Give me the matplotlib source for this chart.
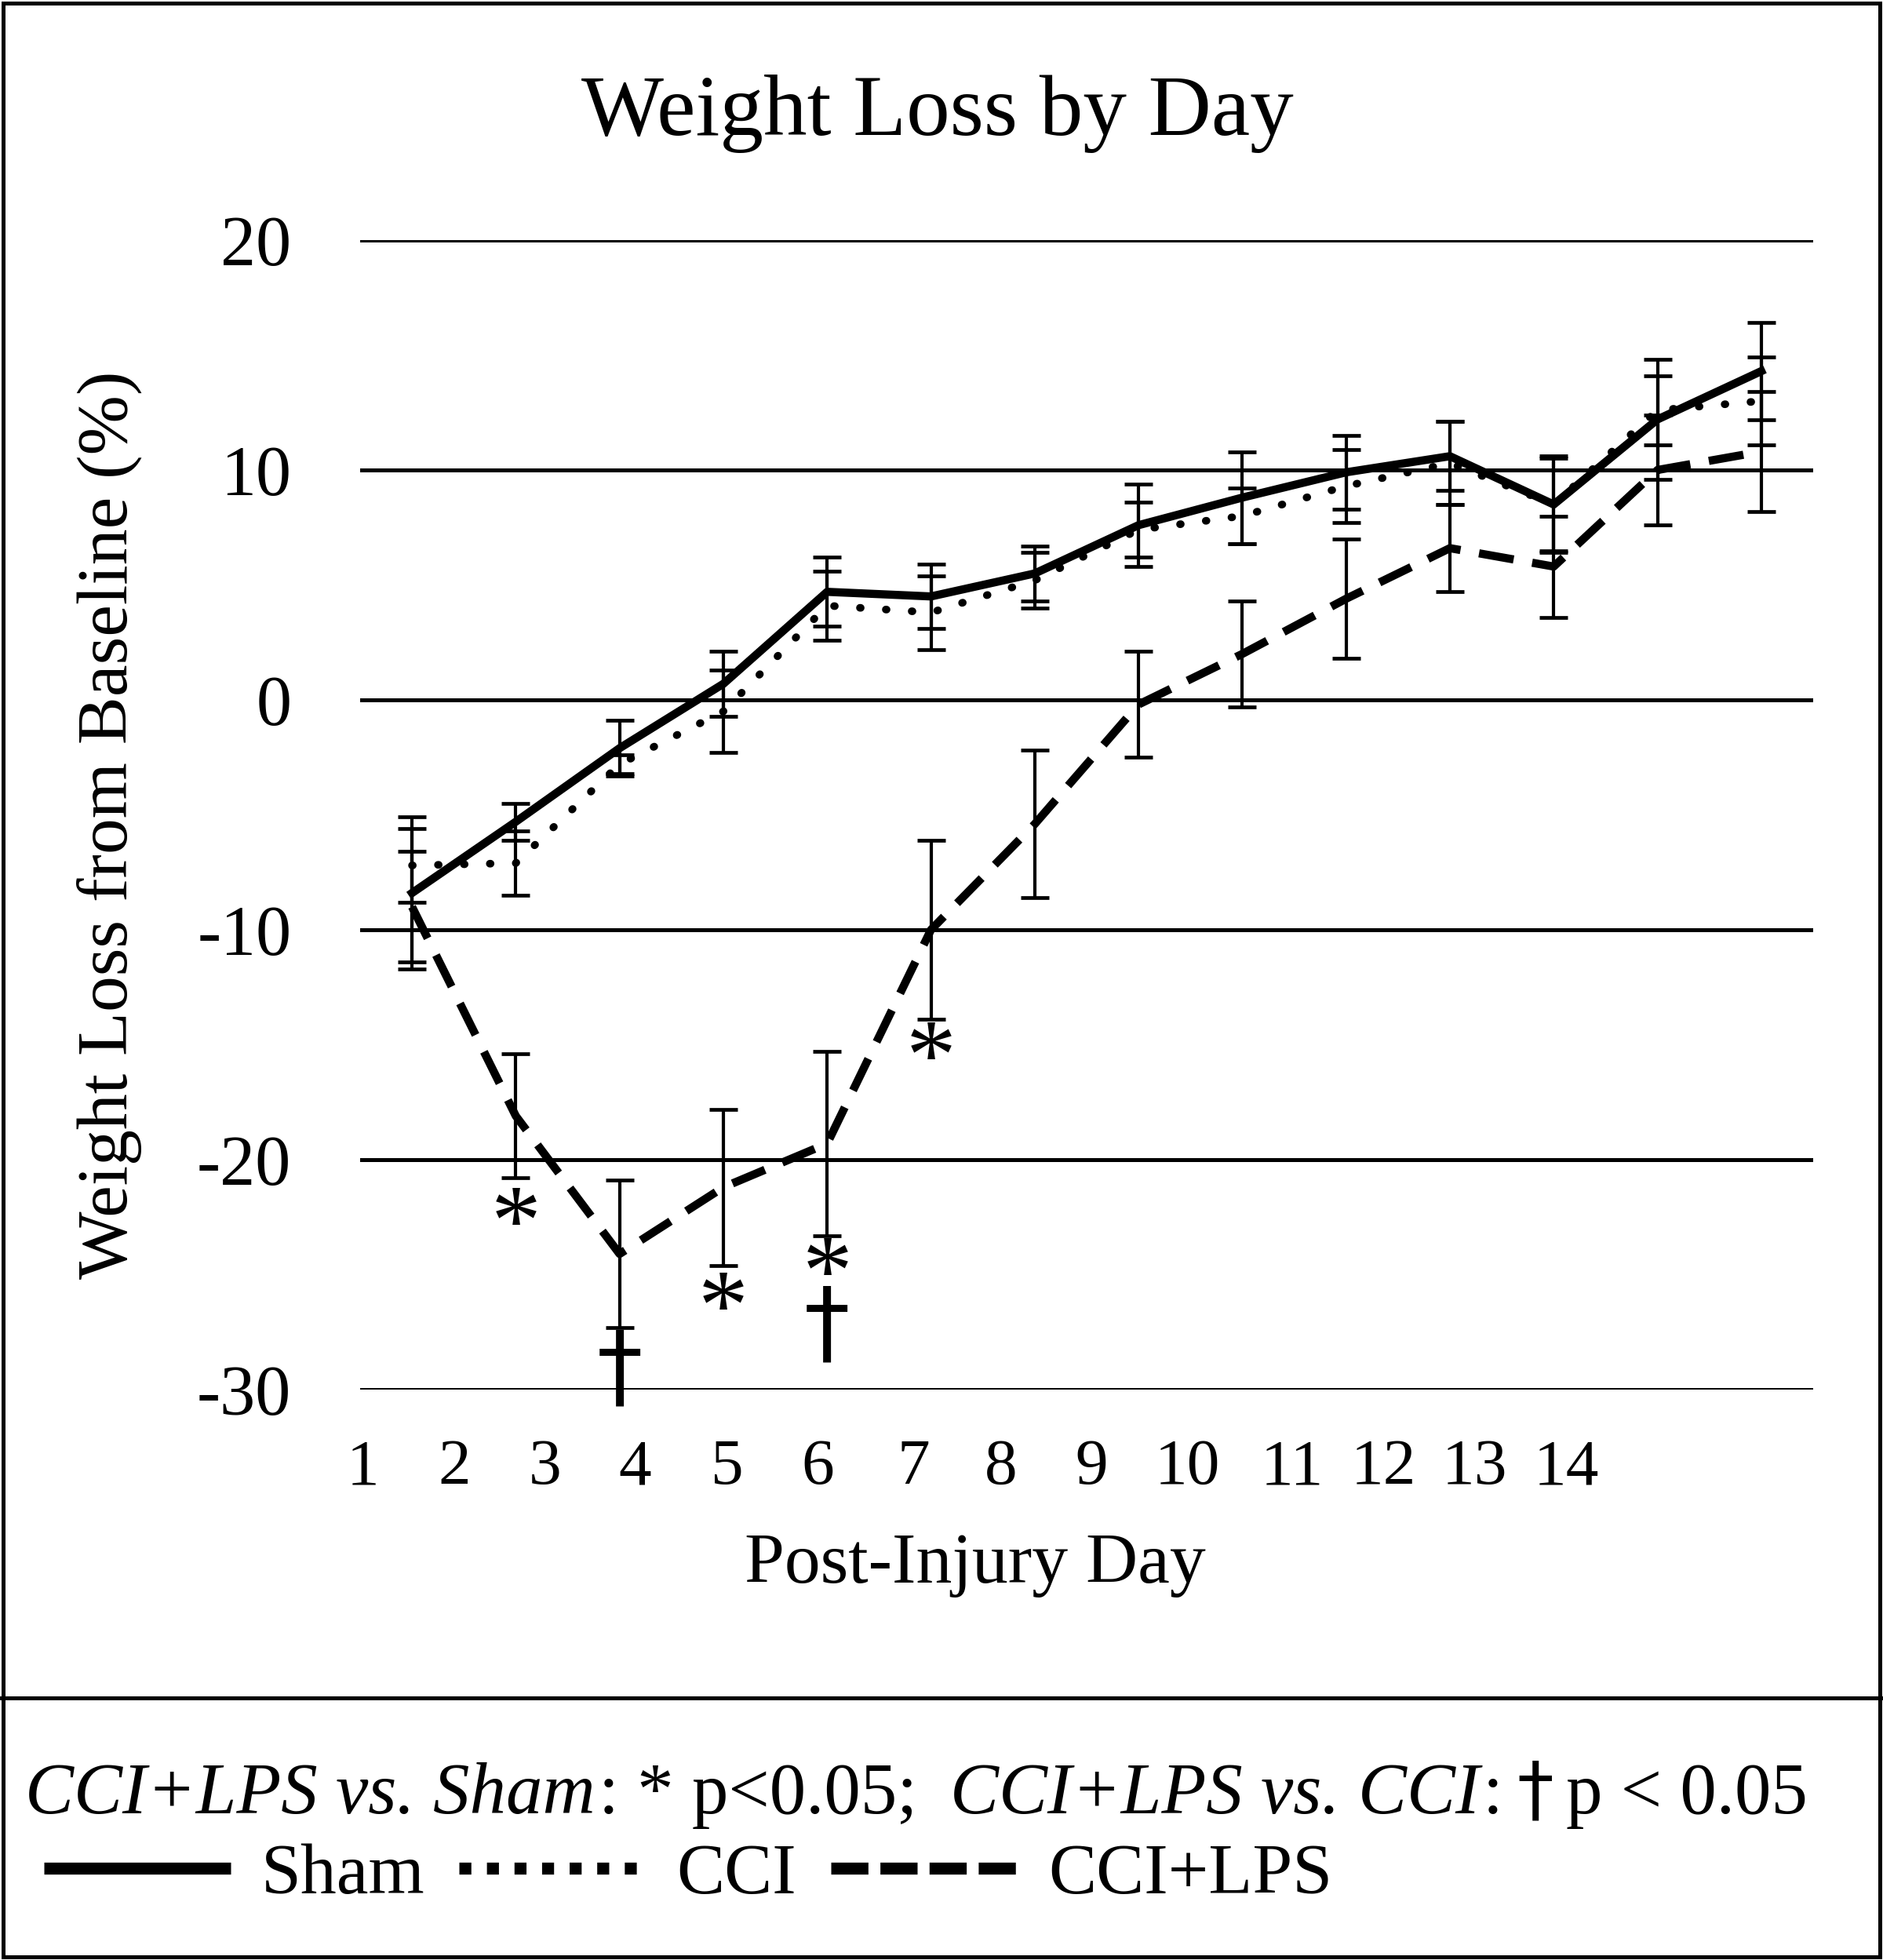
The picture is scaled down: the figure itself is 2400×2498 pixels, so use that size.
import numpy as np
import matplotlib
matplotlib.use('Agg')
import matplotlib.pyplot as plt
from matplotlib.lines import Line2D
from matplotlib.patches import Rectangle

plt.rcParams['font.family'] = 'Liberation Serif'

# ---- data ----
days     = np.arange(1, 15)
groups   = ['Sham', 'CCI', 'CCI+LPS']
sham     = [-8.4, -5.3, -2.1, 0.7, 4.7, 4.5, 5.5, 7.6, 8.8, 9.9, 10.6, 8.5, 12.2, 14.3]
sham_err = [3.3, 0.8, 1.2, 1.4, 1.5, 1.4, 1.2, 1.8, 2.0, 1.6, 1.5, 2.1, 2.6, 2.1]
cci      = [-7.2, -7.1, -2.8, -0.5, 4.1, 3.8, 5.2, 7.4, 8.0, 9.3, 10.3, 8.5, 12.6, 13.0]
cci_err  = [1.6, 1.4, 0.4, 1.8, 1.5, 1.6, 1.2, 1.2, 1.2, 1.6, 1.8, 2.0, 1.5, 1.9]
lps      = [-9.0, -18.1, -24.1, -21.2, -19.3, -10.0, -5.4, -0.2, 2.0, 4.4, 6.6, 5.8, 10.0, 10.8]
lps_err  = [2.4, 2.7, 3.2, 3.4, 4.0, 3.9, 3.2, 2.3, 2.3, 2.6, 1.9, 2.2, 2.4, 2.6]

star_days   = [2, 4, 5, 6]
star_y      = [-22.0, -25.7, -24.2, -14.8]
dagger_days = [3, 5]
dagger_y    = [-29.2, -27.3]

yticks = [20, 10, 0, -10, -20, -30]

# ---- figure ----
W, H = 2400, 2498
fig = plt.figure(figsize=(W/100, H/100), dpi=100)
ax = fig.add_axes([459/W, 1 - 1771/H, (2311-459)/W, (1771-306)/H])

x = days - 0.5
ax.set_xlim(0, 14)
ax.set_ylim(-30, 20)

ax.set_yticks(yticks, labels=[str(v) for v in yticks])
ax.grid(axis='y', color='black', lw=3.6)
ax.set_axisbelow(True)
for s in ax.spines.values():
    s.set_visible(False)
ax.tick_params(axis='y', length=0, pad=63, labelsize=65)

# excel-style category labels that don't sit under the points
xtick_pos = [0.03, 0.91, 1.78, 2.65, 3.54, 4.41, 5.33, 6.17, 7.05, 7.97, 8.98, 9.86, 10.74, 11.62]
ax.set_xticks(xtick_pos, labels=[str(d) for d in days])
ax.tick_params(axis='x', length=0, pad=45, labelsize=60)

ebkw = dict(fmt='none', ecolor='black', elinewidth=3, capsize=13, capthick=3.4, zorder=3)
ax.errorbar(x, sham, yerr=sham_err, **ebkw)
ax.errorbar(x, cci, yerr=cci_err, **ebkw)
ax.errorbar(x, lps, yerr=lps_err, **ebkw)

ax.plot(x, sham, color='black', lw=7.5, zorder=4)
ax.plot(x, cci, color='black', lw=7, linestyle=(0, (0.1, 3.3)),
        dash_capstyle='round', zorder=4)
ax.plot(x, lps, color='black', lw=7.5, linestyle=(0, (4.3, 2.3)), zorder=4)

for d, yv in zip(star_days, star_y):
    ax.annotate('*', (d - 0.5, yv), xytext=(0, -0.48*92), textcoords='offset points',
                ha='center', va='baseline', fontsize=92)
for d, yv in zip(dagger_days, dagger_y):
    ax.annotate('\u2020', (d - 0.5, yv), ha='center', va='center', fontsize=84,
                family='DejaVu Sans')

# titles
fig.text(0.498, 1 - 172/H, 'Weight Loss by Day', ha='center', va='baseline', fontsize=80)
fig.text(0.518, 1 - 2017/H, 'Post-Injury Day', ha='center', va='baseline', fontsize=66)
fig.text(0.058, 0.579, 'Weight Loss from Baseline (%)', rotation=90,
         ha='center', va='center', fontsize=66)

# footnote with italic parts
fig.canvas.draw()
r = fig.canvas.get_renderer()
pieces = [('CCI+LPS vs. Sham', 'italic', 'Liberation Serif', 4),
          (': * p<0.05;', 'normal', 'Liberation Serif', 42),
          ('CCI+LPS vs. CCI', 'italic', 'Liberation Serif', 4),
          (':', 'normal', 'Liberation Serif', 18),
          ('\u2020', 'normal', 'DejaVu Sans', 16),
          ('p < 0.05', 'normal', 'Liberation Serif', 0)]
x0 = 32
for s, st, fam, gap in pieces:
    t = fig.text(x0/W, 1 - 2311/H, s, style=st, family=fam, ha='left', va='baseline',
                 fontsize=67)
    bb = t.get_window_extent(r)
    x0 = bb.x1 + gap

handles = [Line2D([], [], color='black', lw=11, solid_capstyle='butt'),
           Line2D([], [], color='black', lw=11, linestyle=(0, (1, 1.3)), dash_capstyle='butt'),
           Line2D([], [], color='black', lw=11, linestyle=(0, (3.1, 1.0)), dash_capstyle='butt')]
fig.legend(handles, groups, loc='center left', bbox_to_anchor=(56/W, 1 - 2390/H),
           ncol=3, frameon=False, fontsize=66, handlelength=2.6, handletextpad=0.42,
           columnspacing=0.48, borderpad=0, borderaxespad=0)

# frame and divider
fig.add_artist(Rectangle((0.0015, 0.0015), 0.997, 0.997, transform=fig.transFigure,
                         fill=False, lw=3.6, color='black'))
fig.add_artist(Line2D([0, 1], [1 - 2164/H]*2, transform=fig.transFigure, lw=3.6, color='black'))

fig.savefig('out.png', dpi=100)
